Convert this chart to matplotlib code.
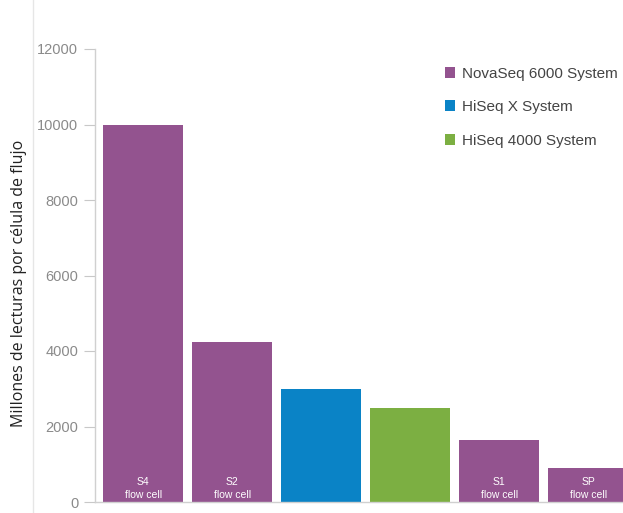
import matplotlib.pyplot as plt
from matplotlib.patches import Patch
from matplotlib.lines import Line2D

# data
bar_labels = ["S4\nflow cell", "S2\nflow cell", "", "", "S1\nflow cell", "SP\nflow cell"]
values = [10000, 4250, 3000, 2500, 1650, 900]
systems = ["NovaSeq 6000 System", "HiSeq X System", "HiSeq 4000 System"]
bar_system = [0, 0, 1, 2, 0, 0]
colors = ["#93538f", "#0a83c6", "#7caf42"]
yticks = [0, 2000, 4000, 6000, 8000, 10000, 12000]

fig = plt.figure(figsize=(6.23, 5.13), dpi=100)
ax = fig.add_axes([95/623, 11/513, 528/623, 453/513])

x = list(range(len(values)))
ax.bar(x, values, width=0.9, color=[colors[s] for s in bar_system], zorder=2)

for xi, lab in zip(x, bar_labels):
    if lab:
        ax.text(xi, 60, lab, ha="center", va="bottom", color="white",
                fontsize=7.5, family="Liberation Sans", linespacing=1.4, zorder=3)

ax.set_xlim(-0.54, 5.39)
ax.set_ylim(0, 12000)
ax.set_yticks(yticks)
ax.set_xticks([])
ax.tick_params(axis="y", length=8, width=0.8, color="#c8c8c8", pad=4,
               labelsize=10.5, labelcolor="#8a8a8a")
for lab in ax.get_yticklabels():
    lab.set_family("Liberation Sans")

for side in ["top", "right"]:
    ax.spines[side].set_visible(False)
for side in ["left", "bottom"]:
    ax.spines[side].set_color("#d0d0d0")
    ax.spines[side].set_linewidth(1.0)

fig.text(19/623, 1 - 283/513, "Millones de lecturas por célula de flujo", rotation=90,
         ha="center", va="center", fontsize=11.5, family="Open Sans", color="#222222")

# faint frame line at left of the image
fig.add_artist(Line2D([33/623, 33/623], [0, 1], color="#e6e6e6", lw=1))

handles = [Patch(facecolor=c, edgecolor="none") for c in colors]
fig.legend(handles, systems, loc="upper left", bbox_to_anchor=(431/623, 1 - 53/513),
           frameon=False, handlelength=0.65, handleheight=0.7, handletextpad=0.5,
           labelspacing=1.27, prop={"family": "Liberation Sans", "size": 11},
           labelcolor="#444444")

fig.savefig("out.png", dpi=100)
